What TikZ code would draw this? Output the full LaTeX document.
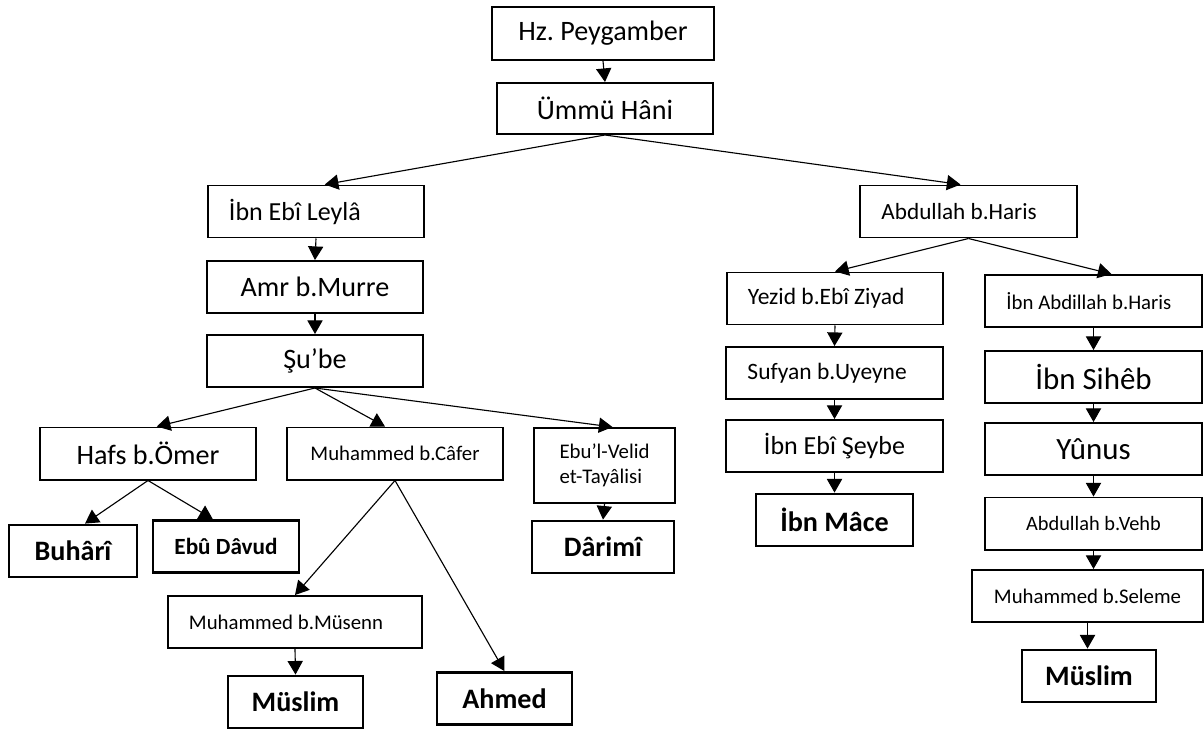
\documentclass[tikz,border=0pt]{standalone}
\usepackage{fontspec}
\setmainfont{Carlito}
\usetikzlibrary{arrows.meta}
\frenchspacing

\begin{document}
\begin{tikzpicture}[x=0.025cm, y=-0.025cm]
    % Stiller
    \tikzset{kutu/.style={draw, line width=1.4pt, minimum width=5.4cm, minimum height=1.3cm, inner sep=0pt, font=\fontsize{20}{22}\selectfont}}
    \tikzset{solkutu/.style={kutu, align=flush left, inner xsep=0.525cm, text width=#1}}
    \tikzstyle{sonuc}=[kutu, line width=2pt, font=\fontsize{20}{22}\selectfont\bfseries]
    \tikzstyle{ok}=[-{Triangle[width=0.38cm,length=0.34cm]}, line width=0.8pt]
    \tikzstyle{kucuk}=[font=\fontsize{14.8}{18}\selectfont]
    \tikzstyle{orta}=[font=\fontsize{18.5}{21}\selectfont]
    \useasboundingbox (0,0) rectangle (1204,732);

    % Ust kisim
    \node[kutu, minimum width=5.55cm, minimum height=1.325cm] (hz) at (603,33.5) {Hz. Peygamber};
    \node[kutu, minimum height=1.275cm] (ummu) at (605,108.5) {Ümmü Hâni};
    \draw[ok] (hz.south) -- (ummu.north);

    % Sol kol: Ibn Ebi Leyla
    \node[solkutu=4.35cm, orta] (leyla) at (316,211.5) {İbn Ebî Leylâ};
    \node[kutu] (amr) at (315,287) {Amr b.Murre};
    \node[kutu] (sube) at (315,361) {Şu’be};
    \draw[ok] (ummu.south) -- ([xshift=0.22cm]leyla.north);
    \draw[ok] (leyla.south) -- (amr.north);
    \draw[ok] (amr.south) -- (sube.north);

    \node[kutu] (hafs) at (148,453.5) {Hafs b.Ömer};
    \node[kutu, kucuk] (cafer) at (395,453.5) {Muhammed b.Câfer};
    \node[kutu, kucuk, align=left, minimum width=3.525cm, minimum height=1.875cm] (ebu) at (604.5,465.5) {Ebu’l-Velid\\et-Tayâlisi};
    \draw[ok] (sube.south) -- ([xshift=0.22cm]hafs.north);
    \draw[ok] (sube.south) -- ([xshift=-0.25cm]cafer.north);
    \draw[ok] (sube.south) -- ([xshift=0.2cm]ebu.north);

    \node[sonuc, minimum width=3.2cm] (buhari) at (73,551) {Buhârî};
    \node[sonuc, minimum width=3.65cm, font=\fontsize{16.5}{19}\selectfont\bfseries] (davud) at (226,546.5) {Ebû Dâvud};
    \node[sonuc, minimum width=3.55cm] (darimi) at (603,547) {Dârimî};
    \draw[ok] (hafs.south) -- ([xshift=0.3cm]buhari.north);
    \draw[ok] (hafs.south) -- ([xshift=-0.33cm]davud.north);
    \draw[ok] (ebu.south) -- (darimi.north);

    \node[solkutu=5.3cm, kucuk] (musenn) at (295,622) {Muhammed b.Müsenn};
    \node[sonuc, minimum width=3.375cm] (muslimA) at (295.5,702) {Müslim};
    \node[sonuc, minimum width=3.375cm] (ahmed) at (504.5,698.5) {Ahmed};
    \draw[ok] (cafer.south) -- (musenn.north);
    \draw[ok] (cafer.south) -- (ahmed.north);
    \draw[ok] (musenn.south) -- (muslimA.north);

    % Sag kol: Abdullah b.Haris
    \node[solkutu=4.35cm, font=\fontsize{16.5}{19}\selectfont] (haris) at (968.5,211.5) {Abdullah b.Haris};
    \draw[ok] (ummu.south) -- ([xshift=-0.2cm]haris.north);

    \node[solkutu=4.35cm, font=\fontsize{16.7}{19}\selectfont] (yezid) at (835,298.5) {Yezid b.Ebî Ziyad};
    \node[solkutu=4.35cm, font=\fontsize{16.7}{19}\selectfont] (sufyan) at (834.5,373) {Sufyan b.Uyeyne};
    \node[kutu, orta] (seybe) at (834.5,446) {İbn Ebî Şeybe};
    \node[sonuc, minimum width=3.925cm] (mace) at (834.5,520) {İbn Mâce};
    \draw[ok] (haris.south) -- (yezid.north);
    \draw[ok] (yezid.south) -- (sufyan.north);
    \draw[ok] (sufyan.south) -- (seybe.north);
    \draw[ok] (seybe.south) -- (mace.north);

    \node[solkutu=4.35cm, kucuk] (ibnabd) at (1093.5,301) {İbn Abdillah b.Haris};
    \node[kutu, font=\fontsize{22}{24}\selectfont] (sihab) at (1093.5,377) {İbn Sihêb};
    \node[kutu, font=\fontsize{22}{24}\selectfont] (yunus) at (1093.5,449) {Yûnus};
    \node[kutu, font=\fontsize{14.5}{17}\selectfont] (vehb) at (1093.5,523.5) {Abdullah b.Vehb};
    \node[kutu, kucuk, minimum width=5.775cm] (seleme) at (1087.5,596) {Muhammed b.Seleme};
    \node[sonuc, minimum width=3.35cm] (muslimB) at (1089,676) {Müslim};
    \draw[ok] (haris.south) -- ([xshift=0.45cm]ibnabd.north);
    \draw[ok] (ibnabd.south) -- (sihab.north);
    \draw[ok] (sihab.south) -- (yunus.north);
    \draw[ok] (yunus.south) -- (vehb.north);
    \draw[ok] (vehb.south) -- (vehb.south |- seleme.north);
    \draw[ok] (seleme.south) -- (seleme.south |- muslimB.north);
\end{tikzpicture}
\end{document}
